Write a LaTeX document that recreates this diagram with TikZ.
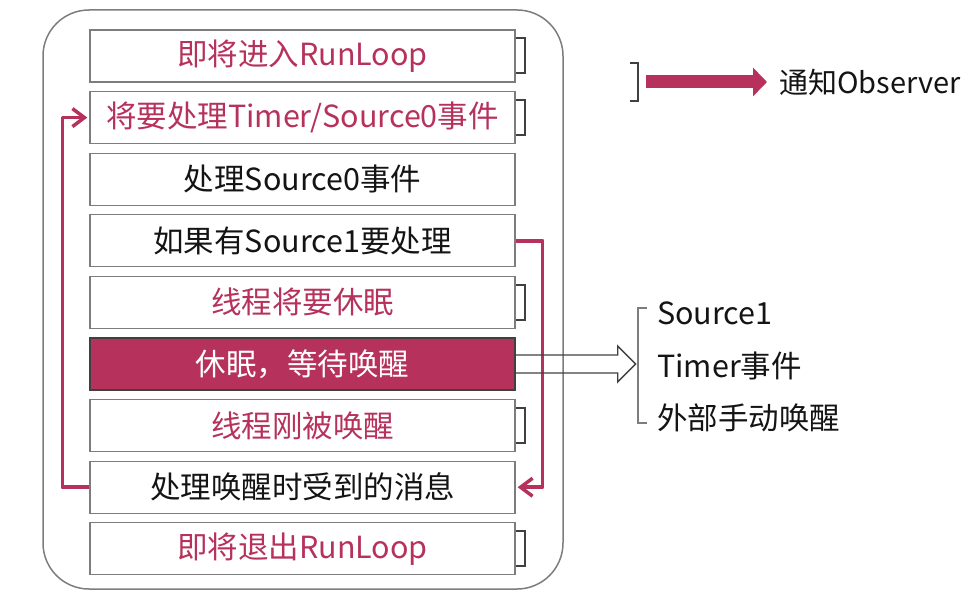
\documentclass[tikz,border=0pt]{standalone}
\usepackage{fontspec}
\setmainfont{Noto Sans CJK SC}
\definecolor{loopred}{RGB}{182,50,92}
\definecolor{framegray}{RGB}{125,125,125}
\definecolor{inkblack}{RGB}{20,20,20}
\usetikzlibrary{positioning, arrows.meta}
\tikzset{
>={Straight Barb[length=12pt,width=18pt]}, % chevron tips on the red loop lines
node distance=8.3pt, % gap between two steps of the run loop
stepbox/.style={draw=framegray, line width=1.3pt, fill=white, text=inkblack, minimum width=425pt, minimum height=52pt, inner sep=0pt, font=\fontsize{30.5}{34}\selectfont}, % one step
notice/.style={stepbox, text=loopred}, % steps that notify the observer
sleepbox/.style={stepbox, fill=loopred, text=white, draw=darkgray}, % the sleeping step
tabmark/.style={draw=darkgray, line width=2pt}, % small bracket right of a notifying step
loopline/.style={draw=loopred, line width=3.5pt, ->, line join=round}, % red jumps
hollow/.style={draw=darkgray, line width=1.3pt, line join=miter}, % open arrow to the wake sources
listitem/.style={anchor=west, inner sep=0pt, text=inkblack, font=\fontsize{30.5}{34}\selectfont}, % wake sources
}

\begin{document}
\begin{tikzpicture}[x=1pt, y=-1pt]
      \useasboundingbox (0,0) rectangle (970,602);
      % the run loop frame
      \draw[framegray, line width=1.5pt, rounded corners=46pt] (43,10) rectangle (563,589);

      \node[notice] (enter) at (302.5,56) {即将进入RunLoop};
      \node[notice, below=of enter] (timer) {将要处理Timer/Source0事件};
      \node[stepbox, below=of timer] (src0) {处理Source0事件};
      \node[stepbox, below=of src0] (src1) {如果有Source1要处理};
      \node[notice, below=of src1] (beforesleep) {线程将要休眠};
      \node[sleepbox, below=of beforesleep] (sleep) {休眠，等待唤醒};
      \node[notice, below=of sleep] (woke) {线程刚被唤醒};
      \node[stepbox, below=of woke] (handle) {处理唤醒时受到的消息};
      \node[notice, below=of handle] (exit) {即将退出RunLoop};

      \foreach \n in {enter, timer, beforesleep, woke, exit}
        \draw[tabmark] ([yshift=17.5pt]\n.east) -- ++(9,0) -- ++(0,35) -- ++(-9,0);

      \draw[loopline, shorten >=2pt] (handle.west) -- ++(-27,0) |- (timer.west);
      \draw[loopline, shorten >=2pt] (src1.east) -- ++(27,0) |- (handle.east);

      % wake sources
      \draw[hollow] ([yshift=9pt]sleep.east) -- ++(102,0) -- ++(0,-9) -- ++(18,18)
        -- ++(-18,18) -- ++(0,-9) -- ([yshift=-9pt]sleep.east);
      \coordinate (sources) at (638,365);
      \draw[framegray, line width=1.3pt] ([xshift=9pt,yshift=57pt]sources) -- ++(-9,0) -- ++(0,115) -- ++(9,0);
      \node[listitem] (s1) at (657,313) {Source1};
      \node[listitem] (tmr) at (657,366) {Timer事件};
      \node[listitem] (manual) at (657,418) {外部手动唤醒};

      % legend
      \coordinate (legend) at (638,82);
      \draw[tabmark] ([xshift=-8pt,yshift=19pt]legend) -- ++(8,0) -- ++(0,38) -- ++(-8,0);
      \node[listitem, font=\fontsize{29}{32}\selectfont] (notify) at (779,82) {通知Observer};
      \draw[draw=loopred, line width=13pt, -{Triangle[length=14pt,width=28pt]}, shorten >=12pt]
        ([xshift=8pt]legend) -- (notify.west);
    \end{tikzpicture}
\end{document}
